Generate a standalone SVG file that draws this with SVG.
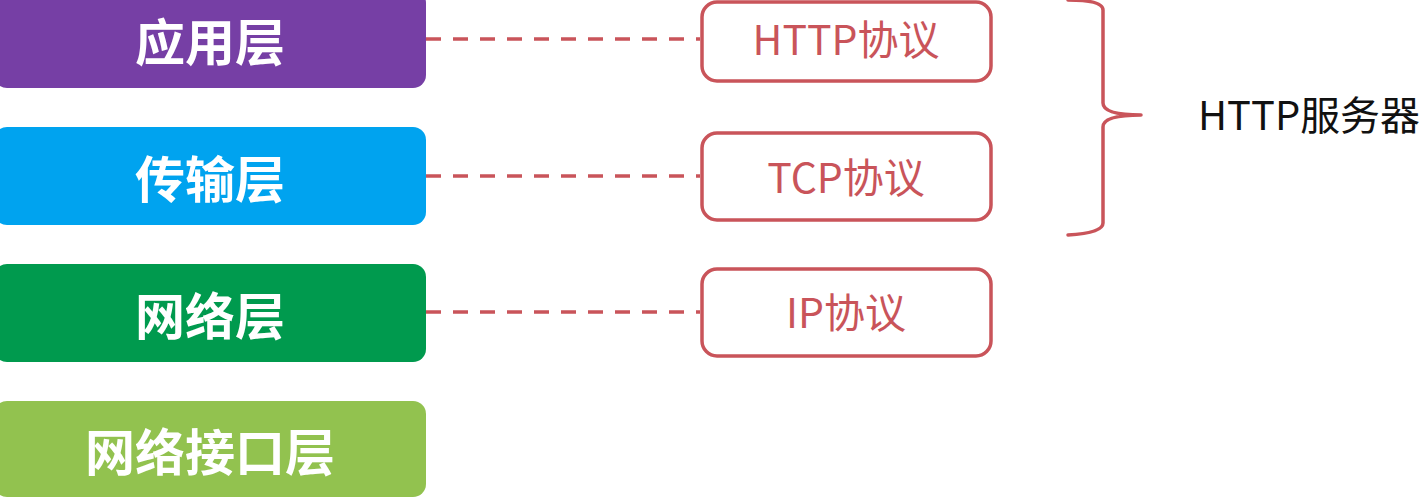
<svg xmlns="http://www.w3.org/2000/svg" width="1424" height="497" viewBox="0 0 1424 497">
<style>
.layer-text{font-family:"Noto Sans CJK SC","Noto Sans",sans-serif;font-weight:bold;font-size:50px;fill:#ffffff;text-anchor:middle;dominant-baseline:central}
.proto{fill:#ffffff;stroke:#c9545a;stroke-width:3.5}
.proto-text{font-family:"Noto Sans CJK SC","Noto Sans",sans-serif;font-size:41px;fill:#c9545a;text-anchor:middle}
.dash{stroke:#c9545a;stroke-width:3.5;stroke-dasharray:15 12;fill:none}
.brace{stroke:#c9545a;stroke-width:3.5;fill:none;stroke-linecap:round;stroke-linejoin:round}
</style>
<rect width="1424" height="497" fill="#ffffff"/>
<g id="connectors">
<line class="dash" x1="426" y1="39" x2="700" y2="39"/>
<line class="dash" x1="426" y1="176" x2="700" y2="176"/>
<line class="dash" x1="426" y1="312" x2="700" y2="312"/>
</g>
<g id="layer-app">
<rect x="-6" y="-10" width="432" height="98" rx="13" fill="#763fa5"/>
<text class="layer-text" x="210" y="39">应用层</text>
</g>
<g id="layer-transport">
<rect x="-6" y="127" width="432" height="98" rx="13" fill="#00a3ef"/>
<text class="layer-text" x="210" y="176">传输层</text>
</g>
<g id="layer-network">
<rect x="-6" y="264" width="432" height="98" rx="13" fill="#009a4e"/>
<text class="layer-text" x="210" y="313">网络层</text>
</g>
<g id="layer-link">
<rect x="-6" y="401" width="432" height="96" rx="13" fill="#92c24f"/>
<text class="layer-text" x="210" y="449">网络接口层</text>
</g>
<g id="proto-http">
<rect class="proto" x="702" y="2" width="289" height="79" rx="15"/>
<text class="proto-text" x="846" y="55">HTTP协议</text>
</g>
<g id="proto-tcp">
<rect class="proto" x="702" y="133" width="289" height="87" rx="15"/>
<text class="proto-text" x="846" y="193">TCP协议</text>
</g>
<g id="proto-ip">
<rect class="proto" x="702" y="269" width="289" height="87" rx="15"/>
<text class="proto-text" x="846" y="328">IP协议</text>
</g>
<g id="server">
<path class="brace" d="M1068,0 Q1103,0 1103,10 L1103,103 Q1103,115 1141,115 Q1103,115 1103,127 L1103,223 Q1103,233 1068,235"/>
<text x="1198" y="130" font-family="'Noto Sans CJK SC','Noto Sans',sans-serif" font-size="40" textLength="222" lengthAdjust="spacingAndGlyphs" fill="#111111">HTTP服务器</text>
</g>
</svg>
